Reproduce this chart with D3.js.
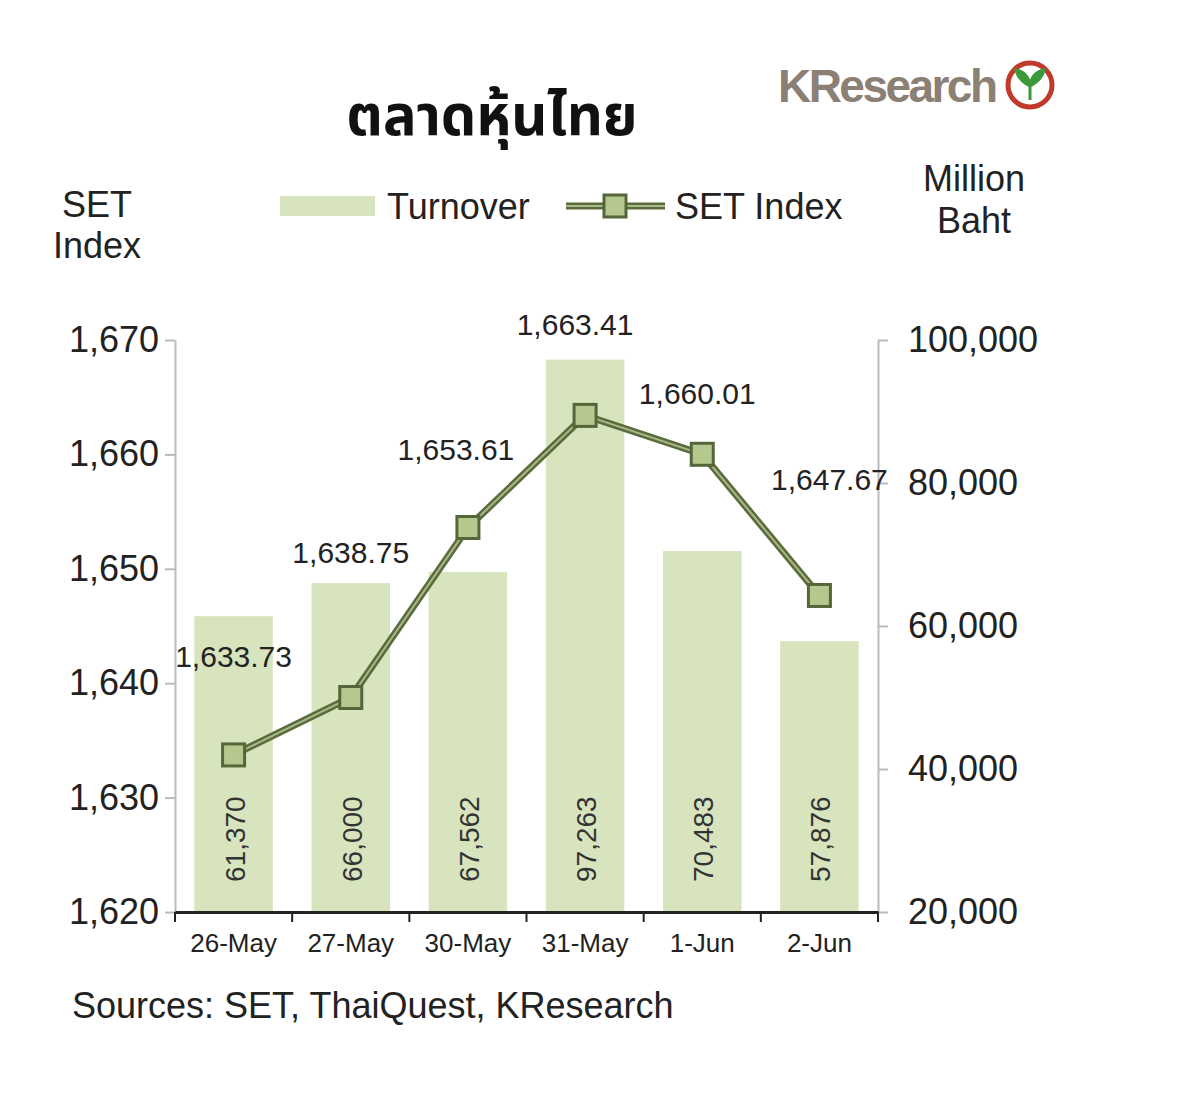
<!DOCTYPE html>
<html><head><meta charset="utf-8">
<script src="https://cdn.jsdelivr.net/npm/d3@7"></script>
<style>body{margin:0;background:#fff}text{font-family:"Liberation Sans",Arial,sans-serif}</style>
</head><body><svg id="c" width="1200" height="1098"></svg>
<script>
const dates = ["26-May", "27-May", "30-May", "31-May", "1-Jun", "2-Jun"];
const turnover = [61370, 66000, 67562, 97263, 70483, 57876];
const setIndex = [1633.73, 1638.75, 1653.61, 1663.41, 1660.01, 1647.67];
const leftTicks = [1620, 1630, 1640, 1650, 1660, 1670];
const rightTicks = [20000, 40000, 60000, 80000, 100000];

const svg = d3.select("#c");
const x = d3.scaleBand().domain(dates).range([175, 878]).paddingInner(0.33).paddingOuter(0.165);
const yL = d3.scaleLinear().domain([1620, 1670]).range([912, 340]);
const yR = d3.scaleLinear().domain([20000, 100000]).range([912, 340]);
const fmt = d3.format(",");

// bars
svg.selectAll(".bar").data(turnover).join("rect")
  .attr("x", (d, i) => x(dates[i])).attr("width", x.bandwidth())
  .attr("y", d => yR(d)).attr("height", d => 912 - yR(d)).attr("fill", "#d7e4bd");
svg.selectAll(".blab").data(turnover).join("text")
  .attr("transform", (d, i) => `translate(${x(dates[i]) + x.bandwidth() / 2 + 11},882) rotate(-90)`)
  .attr("font-size", 28).attr("fill", "#333").text(d => fmt(d));

// axes
const aL = svg.append("g").attr("transform", "translate(175,0)")
  .call(d3.axisLeft(yL).tickValues(leftTicks).tickFormat(fmt).tickSize(10).tickSizeOuter(0));
const aR = svg.append("g").attr("transform", "translate(878,0)")
  .call(d3.axisRight(yR).tickValues(rightTicks).tickFormat(fmt).tickSize(10).tickSizeOuter(0));
[aL, aR].forEach(a => {
  a.select(".domain").attr("stroke", "#bbb").attr("stroke-width", 2);
  a.selectAll(".tick line").attr("stroke", "#bbb").attr("stroke-width", 2);
  a.selectAll("text").attr("font-size", 36).attr("fill", "#222");
});
aL.selectAll("text").attr("x", -16);
aR.selectAll("text").attr("x", 30);
const aB = svg.append("g").attr("transform", "translate(0,912)")
  .call(d3.axisBottom(x).tickSize(0).tickPadding(22));
aB.select(".domain").attr("stroke", "#222").attr("stroke-width", 3);
aB.selectAll("text").attr("font-size", 26).attr("fill", "#222");
const step = x.step();
svg.selectAll(".sep").data(d3.range(7)).join("line")
  .attr("x1", i => 175 + i * step - (i === 6 ? 0 : 0)).attr("x2", i => 175 + i * step)
  .attr("y1", 912).attr("y2", 922).attr("stroke", "#222").attr("stroke-width", 2);

// line
const cx = d => x(d) + x.bandwidth() / 2;
const line = d3.line().x((d, i) => cx(dates[i])).y(d => yL(d));
svg.append("path").datum(setIndex).attr("d", line).attr("fill", "none").attr("stroke", "#5b6b3a").attr("stroke-width", 7);
svg.append("path").datum(setIndex).attr("d", line).attr("fill", "none").attr("stroke", "#a7b98a").attr("stroke-width", 2);
svg.selectAll(".pt").data(setIndex).join("rect")
  .attr("x", (d, i) => cx(dates[i]) - 11).attr("y", d => yL(d) - 11)
  .attr("width", 22).attr("height", 22).attr("fill", "#b5c98e").attr("stroke", "#55663a").attr("stroke-width", 3);
const lblOff = [[0, -88], [0, -135], [-12, -68], [-10, -80], [-5, -50], [10, -105]];
svg.selectAll(".plab").data(setIndex).join("text")
  .attr("x", (d, i) => cx(dates[i]) + lblOff[i][0]).attr("y", (d, i) => yL(d) + lblOff[i][1])
  .attr("text-anchor", "middle").attr("font-size", 30).attr("fill", "#222").text(d => d3.format(",.2f")(d));

// titles
svg.append("text").attr("x", 492).attr("y", 135).attr("text-anchor", "middle")
  .attr("font-size", 56).attr("font-weight", "bold").attr("fill", "#111")
  .style("font-family", "'Noto Sans Thai','Noto Sans','DejaVu Sans',sans-serif").text("ตลาดหุ้นไทย");
svg.append("text").attr("x", 97).attr("y", 217).attr("text-anchor", "middle").attr("font-size", 36).attr("fill", "#222").text("SET");
svg.append("text").attr("x", 97).attr("y", 258).attr("text-anchor", "middle").attr("font-size", 36).attr("fill", "#222").text("Index");
svg.append("text").attr("x", 974).attr("y", 191).attr("text-anchor", "middle").attr("font-size", 36).attr("fill", "#222").text("Million");
svg.append("text").attr("x", 974).attr("y", 233).attr("text-anchor", "middle").attr("font-size", 36).attr("fill", "#222").text("Baht");

// legend
svg.append("rect").attr("x", 280).attr("y", 196).attr("width", 95).attr("height", 20).attr("fill", "#d7e4bd");
svg.append("text").attr("x", 387).attr("y", 219).attr("font-size", 36).attr("fill", "#222").text("Turnover");
svg.append("line").attr("x1", 566).attr("x2", 665).attr("y1", 206).attr("y2", 206).attr("stroke", "#5b6b3a").attr("stroke-width", 7);
svg.append("line").attr("x1", 566).attr("x2", 665).attr("y1", 206).attr("y2", 206).attr("stroke", "#a7b98a").attr("stroke-width", 2);
svg.append("rect").attr("x", 604).attr("y", 195).attr("width", 22).attr("height", 22).attr("fill", "#b5c98e").attr("stroke", "#55663a").attr("stroke-width", 3);
svg.append("text").attr("x", 675).attr("y", 219).attr("font-size", 36).attr("fill", "#222").text("SET Index");

// source
svg.append("text").attr("x", 72).attr("y", 1018).attr("font-size", 36).attr("fill", "#222").text("Sources: SET, ThaiQuest, KResearch");

// logo
svg.append("text").attr("x", 778).attr("y", 102).attr("font-size", 46).attr("font-weight", "bold")
  .attr("fill", "#8c7f74").attr("textLength", 220).text("KResearch");
svg.append("circle").attr("cx", 1030).attr("cy", 85).attr("r", 22).attr("fill", "#fff").attr("stroke", "#c0392b").attr("stroke-width", 5);
svg.append("path").attr("d", "M1030 100 L1030 86 M1030 86 Q1018 80 1016 70 Q1028 72 1030 86 Q1032 72 1044 70 Q1042 80 1030 86")
  .attr("fill", "#3a9a3a").attr("stroke", "#3a9a3a").attr("stroke-width", 3);
</script></body></html>
